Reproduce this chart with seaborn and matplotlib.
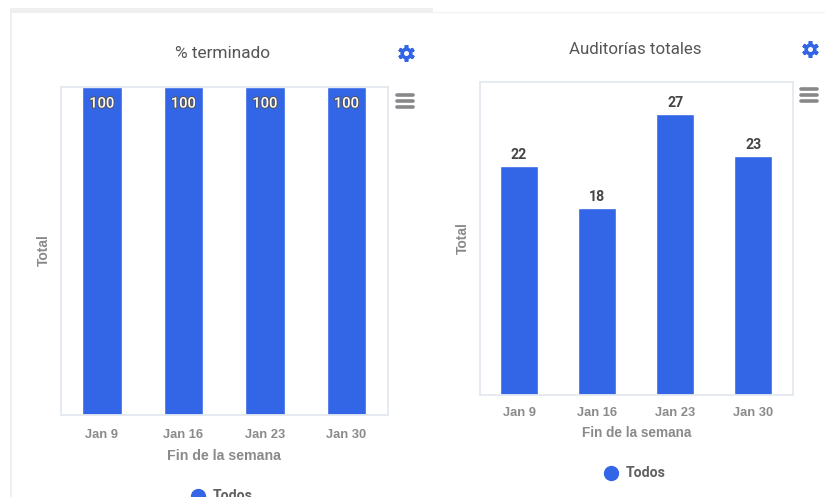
import matplotlib
matplotlib.use("Agg")
import matplotlib.pyplot as plt
import matplotlib.patheffects as pe
from matplotlib.lines import Line2D
from matplotlib.patches import Rectangle
import pandas as pd
import seaborn as sns

weeks = ["Jan 9", "Jan 16", "Jan 23", "Jan 30"]
pct_done = [100, 100, 100, 100]
audits = [22, 18, 27, 23]
title_left = "% terminado"
title_right = "Auditorías totales"
x_label = "Fin de la semana"
y_label = "Total"
legend_label = "Todos"

W, H = 825, 497
BLUE = "#3366E6"
BORDER = "#E4E8F0"
LABEL_FONT = "Liberation Sans"
sns.set_theme(style="white")
plt.rcParams["font.family"] = ["Roboto", "DejaVu Sans"]

fig = plt.figure(figsize=(W / 100, H / 100), dpi=100, facecolor="white")


def fx(x):
    return x / W


def fy(y):
    return 1 - y / H


def gear(x, y):
    pos = dict(xdata=[fx(x)], ydata=[fy(y)], linestyle="none")
    fig.add_artist(Line2D(marker=(6, 2, 0), ms=12, mew=2.6, color=BLUE, **pos))
    fig.add_artist(Line2D(marker="o", ms=8.8, mew=0, color=BLUE, **pos))
    fig.add_artist(Line2D(marker="o", ms=3.6, mew=0, color="white", **pos))


def panel(box, values, ymax, title, title_xy, title_size, gear_xy, menu_xy, ylab_xy, xlab_y,
          xlab_size, leg_xy, tick_pad):
    l, t, r, b = box
    ax = fig.add_axes([fx(l), fy(b), (r - l) / W, (b - t) / H])
    df = pd.DataFrame({"week": weeks, "value": values})
    sns.barplot(data=df, x="week", y="value", color=BLUE, saturation=1, width=0.485, ax=ax)
    ax.set_ylim(0, ymax)
    ax.set_xlim(-0.5, 3.51)
    ax.set_yticks([])
    ax.set_xlabel("")
    ax.set_ylabel("")
    ax.tick_params(axis="x", length=0, pad=tick_pad, labelsize=9.3, labelcolor="#8A8A8A")
    for lb in ax.get_xticklabels():
        lb.set_fontweight("bold")
        lb.set_family(LABEL_FONT)
    for s in ax.spines.values():
        s.set_color(BORDER)
        s.set_linewidth(1.3)
    fig.text(fx(title_xy[0]), fy(title_xy[1]), title, ha="center", va="center",
             fontsize=title_size, color="#555555")
    gear(*gear_xy)
    mx, my = menu_xy
    for dy in (-6, 0, 6):
        fig.add_artist(Line2D([fx(mx - 8), fx(mx + 8)], [fy(my + dy), fy(my + dy)],
                              color="#888888", lw=2.6, solid_capstyle="round"))
    fig.text(fx(ylab_xy[0]), fy(ylab_xy[1]), y_label, rotation=90, ha="center", va="center",
             fontsize=10, fontweight="bold", color="#8A8A8A", family=LABEL_FONT)
    fig.text(fx((l + r) / 2), fy(xlab_y), x_label, ha="center", va="center",
             fontsize=xlab_size, fontweight="bold", color="#8A8A8A", family=LABEL_FONT)
    fig.add_artist(Line2D([fx(leg_xy[0])], [fy(leg_xy[1])], marker="o", ms=10,
                          color=BLUE, linestyle="none"))
    fig.text(fx(leg_xy[0] + 15), fy(leg_xy[1]), legend_label, ha="left", va="center",
             fontsize=10.2, fontweight="bold", color="#606060")
    return ax


# page decoration
fig.add_artist(Rectangle((fx(10), fy(13)), (433 - 10) / W, 5 / H, transform=fig.transFigure,
                         color="#EFEFEF", lw=0))
fig.add_artist(Rectangle((fx(10), 0), 2 / W, fy(13), transform=fig.transFigure,
                         color="#EFEFEF", lw=0))
fig.add_artist(Line2D([fx(433), 1], [fy(11.5), fy(11.5)], color="#F2F2F2", lw=1))

ax1 = panel((61, 87, 388, 415), pct_done, 100, title_left, (223, 53), 12.4, (406, 53), (405, 101),
            (44, 250), 456, 10.2, (198, 496), 10)
for c in ax1.containers:
    ax1.bar_label(c, labels=[str(v) for v in pct_done], label_type="edge", padding=-17,
                  fontsize=10.6, fontweight="medium", color="white",
                  path_effects=[pe.withStroke(linewidth=1.4, foreground="#555555")])

ax2 = panel((480, 82, 793, 395), audits, 30.1, title_right, (635, 49), 12.2, (810, 49), (809, 95),
            (463, 238), 433, 9.8, (611, 473), 9)
for c in ax2.containers:
    ax2.bar_label(c, labels=[str(v) for v in audits], padding=3, fontsize=10.2,
                  fontweight="bold", color="#444444")

fig.savefig("out.png", dpi=100)
